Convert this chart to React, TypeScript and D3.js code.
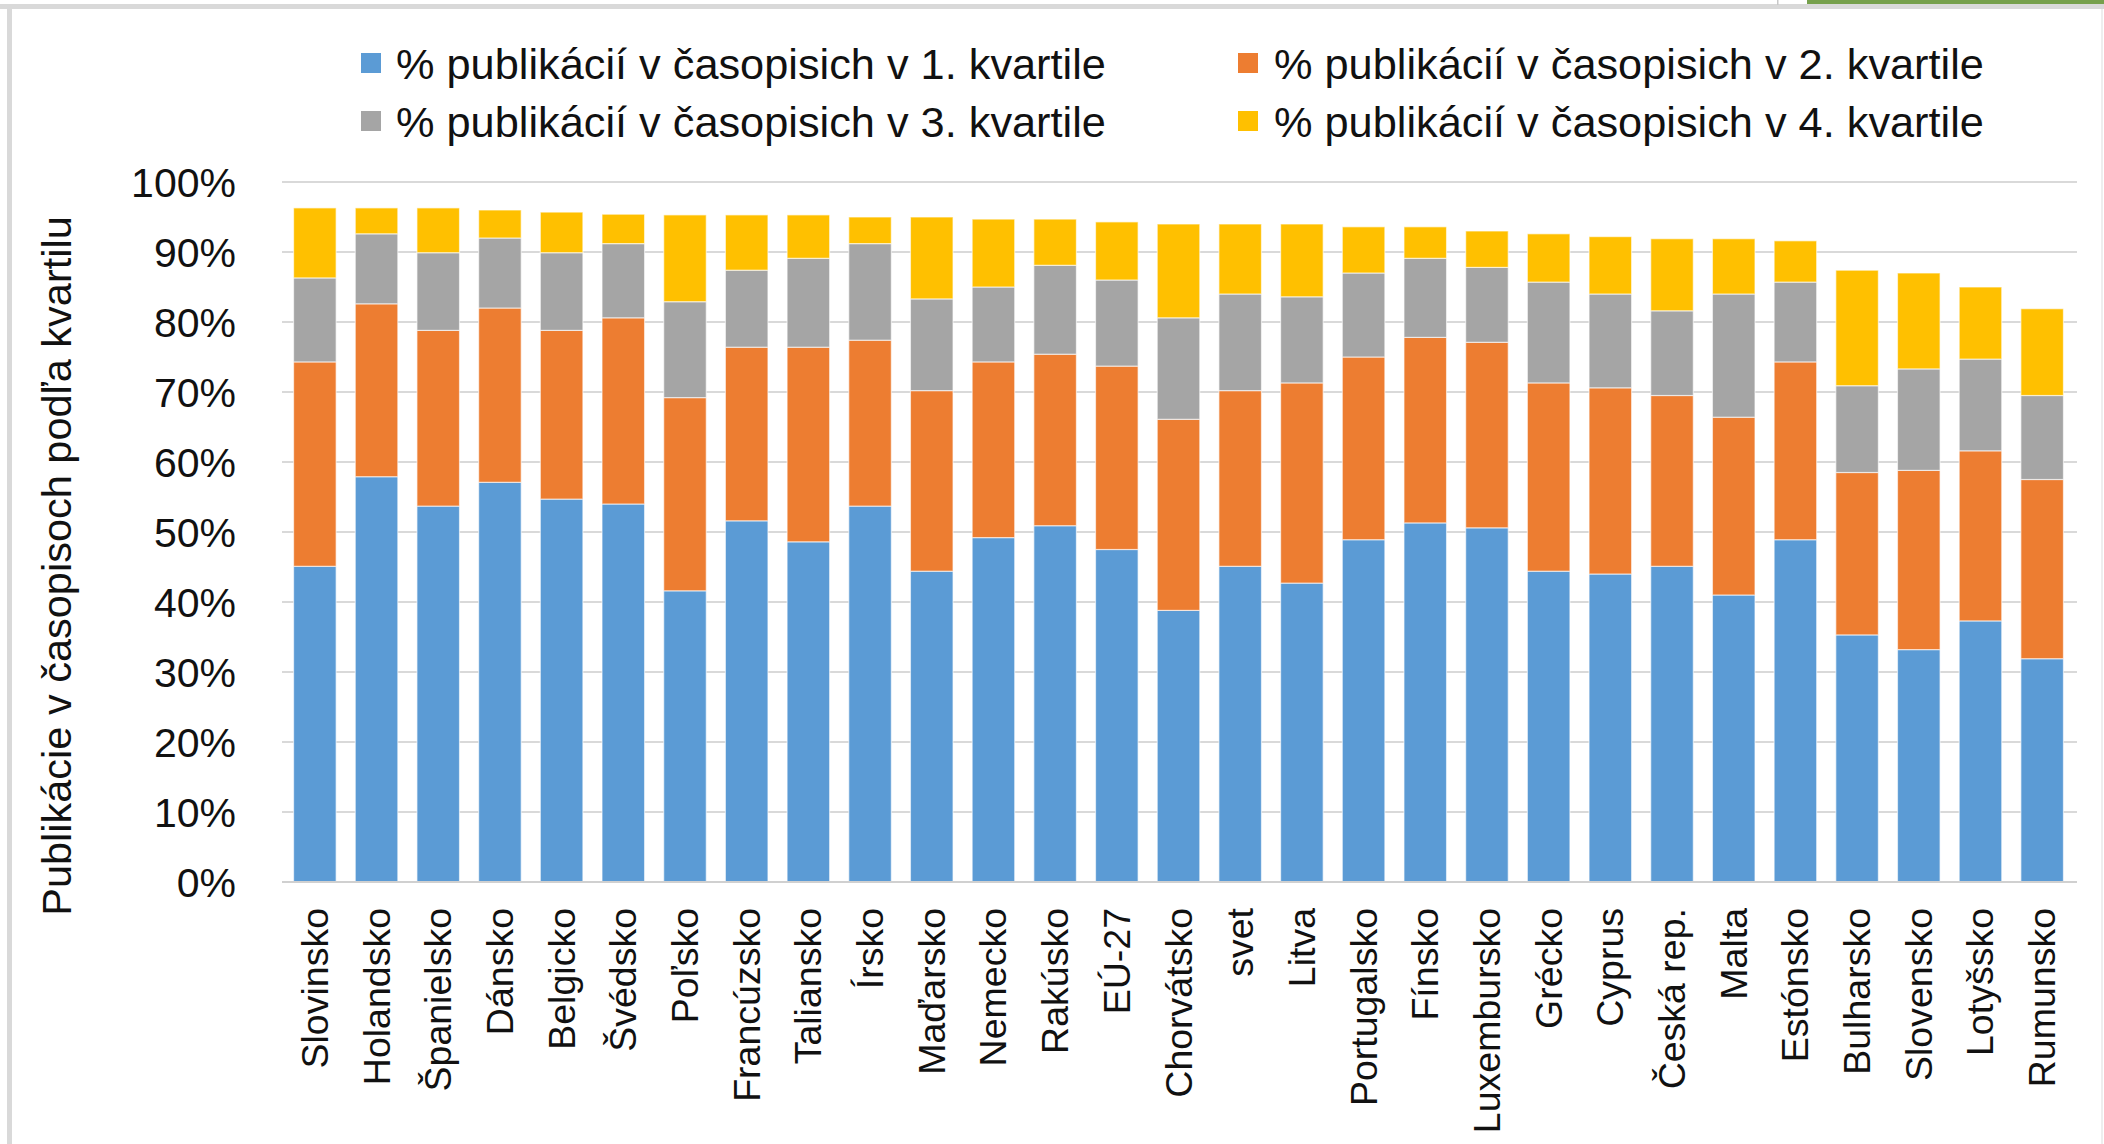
import React from "react";
import * as d3 from "d3";

const categories = ["Slovinsko","Holandsko","Španielsko","Dánsko","Belgicko","Švédsko","Poľsko","Francúzsko","Taliansko","Írsko","Maďarsko","Nemecko","Rakúsko","EÚ-27","Chorvátsko","svet","Litva","Portugalsko","Fínsko","Luxembursko","Grécko","Cyprus","Česká rep.","Malta","Estónsko","Bulharsko","Slovensko","Lotyšsko","Rumunsko"];

const q1 = [45.1,57.9,53.7,57.1,54.7,54.0,41.6,51.6,48.6,53.7,44.4,49.2,50.9,47.5,38.8,45.1,42.7,48.9,51.3,50.6,44.4,44.0,45.1,41.0,48.9,35.3,33.2,37.3,31.9];
const q2 = [29.2,24.7,25.1,24.9,24.1,26.6,27.6,24.8,27.8,23.7,25.8,25.1,24.5,26.2,27.3,25.1,28.6,26.1,26.5,26.5,26.9,26.6,24.4,25.4,25.4,23.2,25.6,24.3,25.6];
const q3 = [12.0,10.0,11.1,10.0,11.1,10.6,13.7,11.0,12.7,13.8,13.1,10.7,12.7,12.3,14.5,13.8,12.3,12.0,11.3,10.7,14.4,13.4,12.1,17.6,11.4,12.4,14.5,13.1,12.0];
const q4 = [10.0,3.7,6.4,4.0,5.8,4.2,12.4,7.9,6.2,3.8,11.7,9.7,6.6,8.3,13.4,10.0,10.4,6.6,4.5,5.2,6.9,8.2,10.3,7.9,5.9,16.5,13.7,10.3,12.4];

const seriesNames = [
  "% publikácií v časopisich v 1. kvartile",
  "% publikácií v časopisich v 2. kvartile",
  "% publikácií v časopisich v 3. kvartile",
  "% publikácií v časopisich v 4. kvartile",
];
const seriesColors = ["#5B9BD5", "#ED7D31", "#A5A5A5", "#FFC000"];
const yTicks = [0,10,20,30,40,50,60,70,80,90,100];
const yTitle = "Publikácie v časopisoch podľa kvartilu";

const W = 2104, H = 1144;
const FONT = "'Liberation Sans', Arial, sans-serif";

export default function App() {
  const keys = ["q1","q2","q3","q4"];
  const rows = categories.map((c, i) => ({ cat: c, q1: q1[i], q2: q2[i], q3: q3[i], q4: q4[i] }));
  const stacked = d3.stack<any>().keys(keys)(rows);

  const x = d3.scaleBand<string>().domain(categories).range([284, 2073]).paddingInner(0.31).paddingOuter(0.155);
  const y = d3.scaleLinear().domain([0, 100]).range([882, 182]);

  const legendItems = [
    { name: seriesNames[0], color: seriesColors[0], sx: 361, tx: 396, cy: 63 },
    { name: seriesNames[1], color: seriesColors[1], sx: 1238, tx: 1274, cy: 63 },
    { name: seriesNames[2], color: seriesColors[2], sx: 361, tx: 396, cy: 121 },
    { name: seriesNames[3], color: seriesColors[3], sx: 1238, tx: 1274, cy: 121 },
  ];

  return (
    <svg width={W} height={H} style={{ position: "absolute", left: 0, top: 0, background: "#fff" }} fontFamily={FONT}>
      <rect x={0} y={0} width={W} height={H} fill="#fff" />
      {/* frame */}
      <rect x={0} y={4} width={W} height={5} fill="#d9d9d9" />
      <rect x={7} y={4} width={5} height={H - 4} fill="#d9d9d9" />
      <rect x={2101} y={9} width={2} height={H - 9} fill="#eeeeee" />
      <rect x={1777} y={0} width={1.5} height={5} fill="#c8c8c8" />
      <rect x={1807} y={0} width={W - 1807} height={4} fill="#76A04C" />

      {/* gridlines */}
      {yTicks.filter(t => t > 0).map(t => (
        <line key={t} x1={282} x2={2077} y1={y(t)} y2={y(t)} stroke="#d9d9d9" strokeWidth={2} />
      ))}

      {/* bars */}
      {stacked.map((s, si) => (
        <g key={s.key} fill={seriesColors[si]}>
          {s.map((d: any, i: number) => (
            <rect key={i} x={x(categories[i])} width={x.bandwidth()} y={y(d[1])} height={y(d[0]) - y(d[1])}
              stroke="#ffffff" strokeOpacity={0.6} strokeWidth={1.2} />
          ))}
        </g>
      ))}

      {/* axis line */}
      <line x1={282} x2={2077} y1={y(0)} y2={y(0)} stroke="#d0d0d0" strokeWidth={2} />

      {/* y tick labels */}
      {yTicks.map(t => (
        <text key={t} x={236} y={y(t)} dy="0.36em" textAnchor="end" fontSize={41} fill="#111">{t}%</text>
      ))}

      {/* x labels */}
      {categories.map(c => {
        const cx = (x(c) as number) + x.bandwidth() / 2;
        return (
          <text key={c} transform={`translate(${cx},908) rotate(-90)`} textAnchor="end" dominantBaseline="central"
            fontSize={37.5} fill="#111">{c}</text>
        );
      })}

      {/* y title */}
      <text transform="translate(56,566) rotate(-90)" textAnchor="middle" dominantBaseline="central" fontSize={41.5} fill="#111">{yTitle}</text>

      {/* legend */}
      {legendItems.map(l => (
        <g key={l.name}>
          <rect x={l.sx} y={l.cy - 10} width={20} height={20} fill={l.color} />
          <text x={l.tx} y={l.cy} dy="0.36em" fontSize={43.3} fill="#111">{l.name}</text>
        </g>
      ))}
    </svg>
  );
}
